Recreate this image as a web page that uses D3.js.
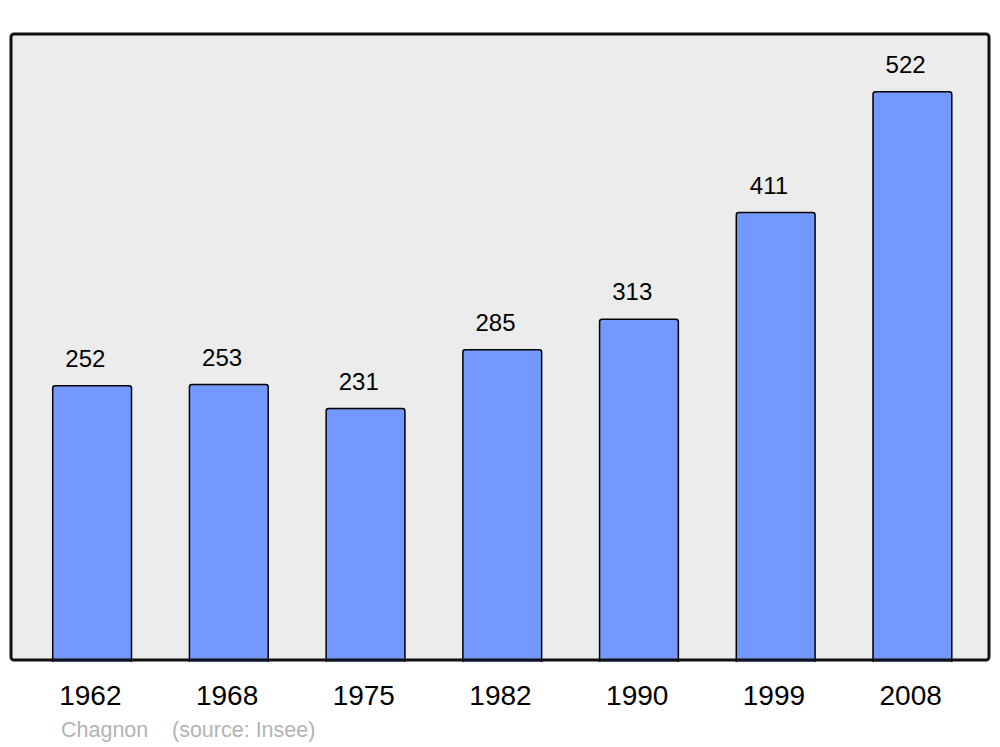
<!DOCTYPE html>
<meta charset="utf-8">
<body style="margin:0;background:#fff">
<style>
text { font-family: "Liberation Sans", Arial, sans-serif; }
</style>
<script src="https://d3js.org/d3.v7.min.js"></script>
<script>
var years = ["1962", "1968", "1975", "1982", "1990", "1999", "2008"];
var population = [252, 253, 231, 285, 313, 411, 522];
var town = "Chagnon";
var source = "(source: Insee)";

var width = 1000, height = 747;
var svg = d3.select("body").append("svg")
    .attr("width", width)
    .attr("height", height);

var x = d3.scaleBand()
    .domain(years)
    .range([24, 981])
    .paddingInner(0.42)
    .paddingOuter(0.21);

var y = d3.scaleLinear()
    .domain([0, 575])
    .range([660, 34]);

// panel background
svg.append("rect")
    .attr("x", 11).attr("y", 34)
    .attr("width", 978).attr("height", 626)
    .attr("rx", 3)
    .attr("fill", "#ececec");

var data = years.map(function(d, i) { return {year: d, value: population[i]}; });

// bars with rounded top corners
svg.selectAll(".bar")
    .data(data)
  .enter().append("path")
    .attr("class", "bar")
    .attr("fill", "#7399ff")
    .attr("stroke", "#000")
    .attr("stroke-width", 1.5)
    .attr("d", function(d) {
      var x0 = x(d.year), x1 = x0 + x.bandwidth() - 0.5, t = y(d.value), b = y(0) + 2, r = 2.5;
      return "M" + x0 + "," + b + "V" + (t + r) + "Q" + x0 + "," + t + " " + (x0 + r) + "," + t +
        "H" + (x1 - r) + "Q" + x1 + "," + t + " " + x1 + "," + (t + r) + "V" + b;
    });

// value labels
svg.selectAll(".val")
    .data(data)
  .enter().append("text")
    .attr("class", "val")
    .attr("x", function(d) { return x(d.year) + x.bandwidth() / 2 - 7; })
    .attr("y", function(d) { return y(d.value) - 19; })
    .attr("text-anchor", "middle")
    .attr("font-size", 24)
    .attr("fill", "#000")
    .text(function(d) { return d.value; });

// panel border on top
svg.append("rect")
    .attr("x", 11).attr("y", 34)
    .attr("width", 978).attr("height", 626)
    .attr("rx", 3)
    .attr("fill", "none")
    .attr("stroke", "#111")
    .attr("stroke-width", 3);

// year labels
svg.selectAll(".year")
    .data(years)
  .enter().append("text")
    .attr("class", "year")
    .attr("x", function(d) { return x(d) + x.bandwidth() / 2 - 2; })
    .attr("y", 705)
    .attr("text-anchor", "middle")
    .attr("font-size", 28)
    .attr("fill", "#000")
    .text(function(d) { return d; });

svg.append("text")
    .attr("x", 61).attr("y", 737)
    .attr("font-size", 21.5)
    .attr("fill", "#b3b3b3")
    .text(town);

svg.append("text")
    .attr("x", 172).attr("y", 737)
    .attr("font-size", 21.5)
    .attr("fill", "#b3b3b3")
    .text(source);
</script>
</body>
